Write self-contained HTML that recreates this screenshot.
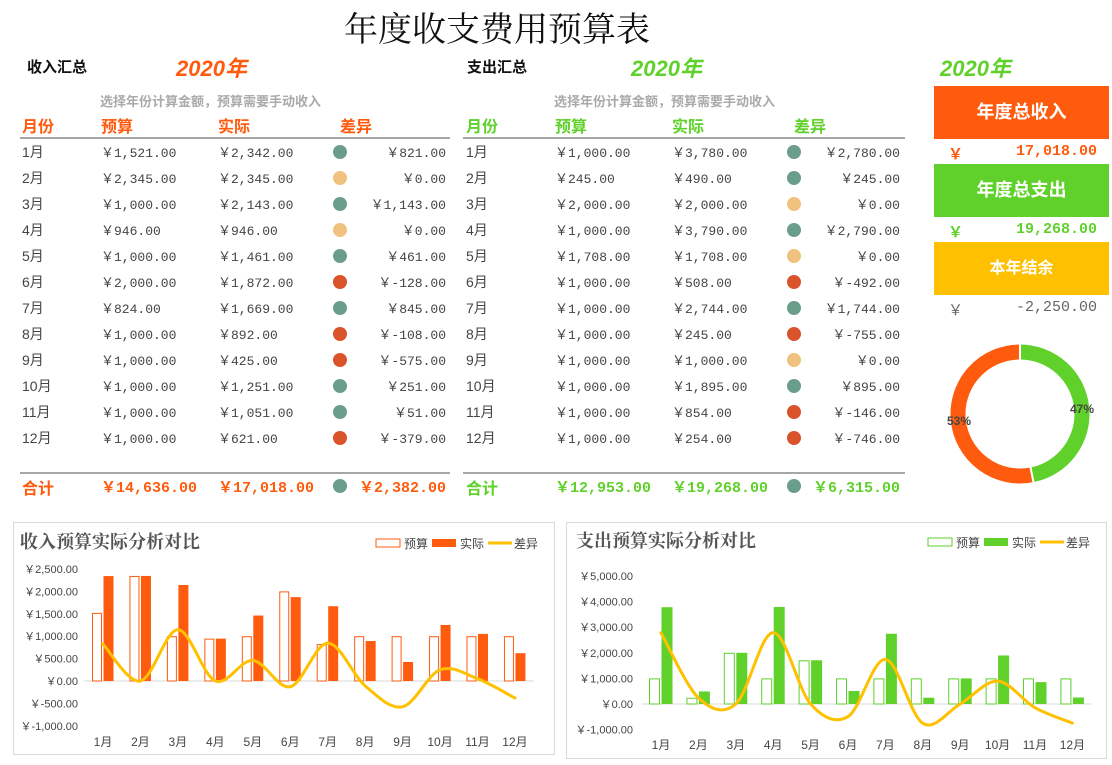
<!DOCTYPE html>
<html><head><meta charset="utf-8">
<style>
body{margin:0;width:1112px;height:765px;background:#fff;position:relative;overflow:hidden;font-family:"Liberation Sans","Noto Sans CJK SC",sans-serif;}
.a{position:absolute;white-space:nowrap;}
.num{font-family:"Liberation Mono","Noto Sans CJK SC",monospace;font-size:13px;color:#444;}
.cj{font-size:14px;color:#444;}
.hd{font-size:16px;font-weight:bold;}
.box{position:absolute;left:934px;width:175px;height:53px;color:#fff;font-size:18px;font-weight:bold;text-align:center;line-height:53px;}
.chart{position:absolute;border:1px solid #d9d9d9;}
</style></head>
<body>
<div class="a" style="left:344px;top:2px;font-size:34px;font-family:'Liberation Serif','Noto Serif CJK SC',serif;color:#111;">年度收支费用预算表</div>
<div class="a" style="left:27px;top:56px;font-size:15px;font-weight:bold;color:#111;">收入汇总</div>
<div class="a" style="left:176px;top:51px;font-size:22px;font-weight:bold;font-style:italic;color:#FF5B0E;">2020年</div>
<div class="a" style="left:467px;top:56px;font-size:15px;font-weight:bold;color:#111;">支出汇总</div>
<div class="a" style="left:631px;top:51px;font-size:22px;font-weight:bold;font-style:italic;color:#5FD12A;">2020年</div>
<div class="a" style="left:940px;top:51px;font-size:22px;font-weight:bold;font-style:italic;color:#5FD12A;">2020年</div>
<div class="a" style="left:100px;top:91px;font-size:13px;font-weight:bold;color:#aaa;">选择年份计算金额，预算需要手动收入</div>
<div class="a" style="left:554px;top:91px;font-size:13px;font-weight:bold;color:#aaa;">选择年份计算金额，预算需要手动收入</div>

<div class="box" style="top:86px;background:#FF5B0E;">年度总收入</div>
<div class="a num" style="left:948px;top:143px;color:#FF5B0E;font-weight:bold;font-size:15px;">￥</div>
<div class="a num" style="right:15px;top:143px;color:#FF5B0E;font-weight:bold;font-size:15px;" id="incTotBox"></div>
<div class="box" style="top:164px;background:#5FD12A;">年度总支出</div>
<div class="a num" style="left:948px;top:221px;color:#5FD12A;font-weight:bold;font-size:15px;">￥</div>
<div class="a num" style="right:15px;top:221px;color:#5FD12A;font-weight:bold;font-size:15px;" id="expTotBox"></div>
<div class="box" style="top:242px;background:#FFC000;font-size:16px;">本年结余</div>
<div class="a num" style="left:948px;top:299px;color:#666;font-size:15px;">￥</div>
<div class="a num" style="right:15px;top:299px;color:#666;font-size:15px;" id="balBox"></div>

<svg class="a" id="donut" style="left:930px;top:330px;" width="180" height="170"></svg>

<div id="tables"></div>

<div class="chart" style="left:13px;top:522px;width:540px;height:231px;"></div>
<div class="chart" style="left:566px;top:522px;width:539px;height:235px;"></div>
<svg class="a" id="charts" style="left:0;top:0;" width="1112" height="765"></svg>

<script>
const months = ['1月','2月','3月','4月','5月','6月','7月','8月','9月','10月','11月','12月'];
const incomeBudget = [1521,2345,1000,946,1000,2000,824,1000,1000,1000,1000,1000];
const incomeActual = [2342,2345,2143,946,1461,1872,1669,892,425,1251,1051,621];
const expenseBudget = [1000,245,2000,1000,1708,1000,1000,1000,1000,1000,1000,1000];
const expenseActual = [3780,490,2000,3790,1708,508,2744,245,1000,1895,854,254];
const incomeTicks = [2500,2000,1500,1000,500,0,-500,-1000];
const expenseTicks = [5000,4000,3000,2000,1000,0,-1000];

const ORG='#FF5B0E', GRN='#5FD12A', YEL='#FFC000';
const NS='http://www.w3.org/2000/svg';
function fmt(v){const s=Math.abs(v).toFixed(2).replace(/\B(?=(\d{3})+(?!\d))/g,',');return (v<0?'-':'')+s;}
function dotColor(d){return d>0?'#6A9E8A':(d<0?'#D9542B':'#F1C27D');}
const sum=a=>a.reduce((x,y)=>x+y,0);

const T=document.getElementById('tables');
function div(cls,style,text){const e=document.createElement('div');e.className='a '+cls;e.style.cssText=style;e.textContent=text;T.appendChild(e);return e;}
function table(prefix,x0,cols,color,budget,actual){
  const hdr=['月份','预算','实际','差异'];
  hdr.forEach((h,i)=>{const e=div('hd','left:'+cols[i]+'px;top:113px;color:'+color,h);
    
    });
  let l=div('','left:'+x0+'px;top:137px;width:'+(cols[5]-x0+2)+'px;height:2px;background:#a6a6a6','');
  
  
  l=div('','left:'+x0+'px;top:472px;width:'+(cols[5]-x0+2)+'px;height:2px;background:#a6a6a6','');
  
  
  months.forEach((m,i)=>{
    const y=142+i*26, d=actual[i]-budget[i];
    let e=div('cj','left:'+cols[0]+'px;top:'+y+'px',m);
    
    
    e=div('num','left:'+cols[1]+'px;top:'+y+'px','￥'+fmt(budget[i]));
    
    
    e=div('num','left:'+cols[2]+'px;top:'+y+'px','￥'+fmt(actual[i]));
    
    
    e=div('','left:'+(cols[3]-7)+'px;top:'+(y+3)+'px;width:14px;height:14px;border-radius:50%;background:'+dotColor(d),'');
    
    
    e=div('num','right:'+(1112-cols[4])+'px;top:'+y+'px','￥'+fmt(d));
    
    
  });
  const tb=sum(budget),ta=sum(actual),td=ta-tb,y=475;
  const st='font-weight:bold;font-size:15px;color:'+color+';';
  let e=div('','left:'+cols[0]+'px;top:'+y+'px;'+st+'font-size:16px','合计');
  
  
  e=div('num','left:'+cols[1]+'px;top:'+(y+1)+'px;'+st,'￥'+fmt(tb));
  
  
  e=div('num','left:'+cols[2]+'px;top:'+(y+1)+'px;'+st,'￥'+fmt(ta));
  
  
  e=div('','left:'+(cols[3]-7)+'px;top:'+(y+4)+'px;width:14px;height:14px;border-radius:50%;background:'+dotColor(td),'');
  
  
  e=div('num','right:'+(1112-cols[4])+'px;top:'+(y+1)+'px;'+st,'￥'+fmt(td));
  
  
  return ta;
}
const incT=table('income',20,[22,101,218,340,446,448],ORG,incomeBudget,incomeActual);
const expT=table('expense',463,[466,555,672,794,900,903],GRN,expenseBudget,expenseActual);
document.getElementById('incTotBox').textContent=fmt(incT);
document.getElementById('expTotBox').textContent=fmt(expT);
document.getElementById('balBox').textContent=fmt(incT-expT);

// donut: green slice = income share (clockwise from top), orange = expense share
(function(){
  const svg=document.getElementById('donut'),cx=90,cy=84,r=62;
  const tot=incT+expT, fracG=incT/tot;
  function arc(a0,a1,col,name){
    const p=document.createElementNS(NS,'path');
    const x0=cx+r*Math.sin(a0),y0=cy-r*Math.cos(a0),x1=cx+r*Math.sin(a1),y1=cy-r*Math.cos(a1);
    p.setAttribute('d','M'+x0+' '+y0+' A'+r+' '+r+' 0 '+((a1-a0)>Math.PI?1:0)+' 1 '+x1+' '+y1);
    p.setAttribute('fill','none');p.setAttribute('stroke',col);p.setAttribute('stroke-width','15');
    
    
    svg.appendChild(p);
  }
  const aG=fracG*2*Math.PI;
  arc(0,aG,GRN,'donut-income-slice');
  arc(aG,2*Math.PI-0.0001,ORG,'donut-expense-slice');
  [0,aG].forEach(a=>{const l=document.createElementNS(NS,'line');
    l.setAttribute('x1',cx+(r-9)*Math.sin(a));l.setAttribute('y1',cy-(r-9)*Math.cos(a));
    l.setAttribute('x2',cx+(r+9)*Math.sin(a));l.setAttribute('y2',cy-(r+9)*Math.cos(a));
    l.setAttribute('stroke','#fff');l.setAttribute('stroke-width','2');svg.appendChild(l);});
  function lab(x,y,t,name){const e=document.createElementNS(NS,'text');e.setAttribute('x',x);e.setAttribute('y',y);
    e.setAttribute('font-size','12');e.setAttribute('font-weight','bold');e.setAttribute('fill','#444');e.setAttribute('text-anchor','middle');e.textContent=t;
    
    
    svg.appendChild(e);}
  lab(cx+62,cy-1,Math.round(fracG*100)+'%','donut-income-pct');
  lab(cx-61,cy+11,Math.round((1-fracG)*100)+'%','donut-expense-pct');
})();

// charts
const C=document.getElementById('charts');
function el(tag,attrs,text){const e=document.createElementNS(NS,tag);for(const k in attrs)e.setAttribute(k,attrs[k]);if(text!==undefined)e.textContent=text;C.appendChild(e);return e;}
function smooth(pts){let d='M'+pts[0][0]+' '+pts[0][1];
  for(let i=0;i<pts.length-1;i++){const p0=pts[i-1]||pts[i],p1=pts[i],p2=pts[i+1],p3=pts[i+2]||p2;
    const c1=[p1[0]+(p2[0]-p0[0])/6,p1[1]+(p2[1]-p0[1])/6],c2=[p2[0]-(p3[0]-p1[0])/6,p2[1]-(p3[1]-p1[1])/6];
    d+=' C'+c1[0]+' '+c1[1]+' '+c2[0]+' '+c2[1]+' '+p2[0]+' '+p2[1];}
  return d;}
function chart(o){
  const y=v=>o.y0-v*o.k, x=i=>o.x0+i*o.dx;
  let e=el('text',{x:o.tx,y:o.ty,'font-size':18,'font-weight':'bold',fill:'#555','font-family':'"Liberation Serif","Noto Serif CJK SC",serif'},o.title);
  
  
  const lx=o.lx,ly=o.ly;
  e=el('rect',{x:lx,y:ly-4,width:24,height:8,fill:'#fff',stroke:o.col,'stroke-width':1});
  
  
  e=el('text',{x:lx+28,y:ly+5,'font-size':12,fill:'#444'},'预算');
  
  
  e=el('rect',{x:lx+56,y:ly-4,width:24,height:8,fill:o.col});
  
  
  e=el('text',{x:lx+84,y:ly+5,'font-size':12,fill:'#444'},'实际');
  
  
  e=el('line',{x1:lx+112,y1:ly,x2:lx+136,y2:ly,stroke:YEL,'stroke-width':3});
  
  
  e=el('text',{x:lx+138,y:ly+5,'font-size':12,fill:'#444'},'差异');
  
  
  o.ticks.forEach(t=>{e=el('text',{x:o.ax,y:y(t)+4,'font-size':11,fill:'#444','text-anchor':'end'},'￥'+t.toLocaleString('en-US',{minimumFractionDigits:2}));
    
    });
  e=el('line',{x1:o.x0-o.dx/2,y1:y(0),x2:x(11)+o.dx/2,y2:y(0),stroke:'#d9d9d9','stroke-width':1});
  
  
  months.forEach((m,i)=>{
    const b=o.budget[i],a=o.actual[i];
    e=el('rect',{x:x(i)-o.bw-0.5,y:Math.min(y(b),y(0))+0.5,width:o.bw-1,height:Math.max(Math.abs(y(b)-y(0))-0.5,0),fill:'#fff',stroke:o.col,'stroke-width':1});
    
    
    e=el('rect',{x:x(i)+0.5,y:Math.min(y(a),y(0)),width:o.bw,height:Math.abs(y(a)-y(0)),fill:o.col});
    
    
    e=el('text',{x:x(i),y:o.ly2,'font-size':12,fill:'#444','text-anchor':'middle'},m);
    
    
  });
  const pts=months.map((m,i)=>[x(i),y(o.actual[i]-o.budget[i])]);
  e=el('path',{d:smooth(pts),fill:'none',stroke:YEL,'stroke-width':3,'stroke-linecap':'round'});
  
  
}
chart({p:'income',title:'收入预算实际分析对比',tx:20,ty:548,lx:376,ly:543,col:ORG,x0:103,dx:37.45,y0:681,k:112/2500,bw:10,ax:78,ly2:746,ticks:incomeTicks,budget:incomeBudget,actual:incomeActual});
chart({p:'expense',title:'支出预算实际分析对比',tx:576,ty:547,lx:928,ly:542,col:GRN,x0:661,dx:37.4,y0:704,k:25.6/1000,bw:11,ax:633,ly2:749,ticks:expenseTicks,budget:expenseBudget,actual:expenseActual});
</script>
</body></html>
